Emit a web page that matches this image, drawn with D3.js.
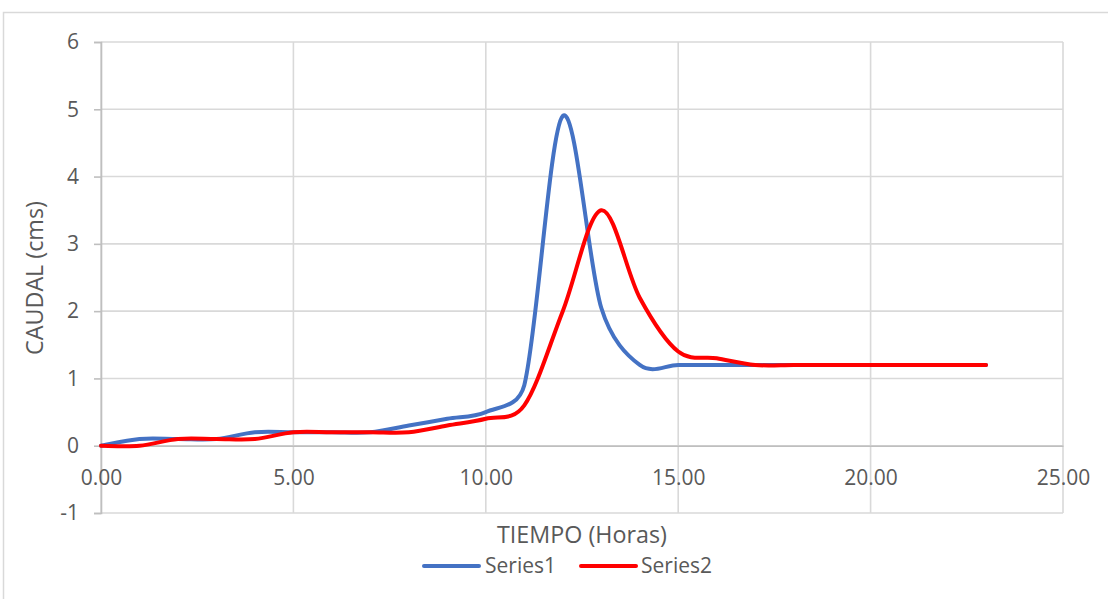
<!DOCTYPE html>
<html>
<head>
<meta charset="utf-8">
<script src="https://cdn.jsdelivr.net/npm/d3@7"></script>
<style>
  html, body { margin: 0; padding: 0; background: #fff; }
  svg { display: block; font-family: "Open Sans", "Noto Sans", sans-serif; }
</style>
</head>
<body>
<svg id="chart" width="1108" height="599"></svg>
<script>
// ---- data ----
const hours = [0,1,2,3,4,5,6,7,8,9,10,11,12,13,14,15,16,17,18,19,20,21,22,23];
const series1 = [0,0.1,0.1,0.1,0.2,0.2,0.2,0.2,0.3,0.4,0.5,0.9,4.9,2.05,1.2,1.2,1.2,1.2,1.2,1.2,1.2,1.2,1.2,1.2];
const series2 = [0,0,0.1,0.1,0.1,0.2,0.2,0.2,0.2,0.3,0.4,0.6,2.0,3.5,2.2,1.4,1.3,1.2,1.2,1.2,1.2,1.2,1.2,1.2];
const seriesNames = ["Series1", "Series2"];
const xTicks = [0,5,10,15,20,25];
const yTicks = [-1,0,1,2,3,4,5,6];
const xTitle = "TIEMPO (Horas)";
const yTitle = "CAUDAL (cms)";

(function () {
// Spreadsheet-style smoothed line as a D3 curve factory (Bezier, control points clamped by segment length)
function SmoothCurve(context) { this._context = context; }
SmoothCurve.prototype = {
  areaStart() {}, areaEnd() {},
  lineStart() { this._pts = []; },
  point(px, py) { this._pts.push([+px, +py]); },
  lineEnd() {
    const p = this._pts, c = this._context, n = p.length;
    if (!n) return;
    c.moveTo(p[0][0], p[0][1]);
    const dist = (a, b) => Math.hypot(b[0] - a[0], b[1] - a[1]);
    for (let i = 0; i < n - 1; i++) {
      const p0 = p[i > 0 ? i - 1 : i], p1 = p[i], p2 = p[i + 1], p3 = p[i + 2 < n ? i + 2 : i + 1];
      const d12 = dist(p1, p2), d02 = dist(p0, p2), d13 = dist(p1, p3);
      let f1 = 1 / 6, f2 = 1 / 6;
      if (d02 / 6 > d12 / 2 && d02 > 0) f1 = d12 / (2 * d02);
      if (d13 / 6 > d12 / 2 && d13 > 0) f2 = d12 / (2 * d13);
      c.bezierCurveTo(
        p1[0] + f1 * (p2[0] - p0[0]), p1[1] + f1 * (p2[1] - p0[1]),
        p2[0] - f2 * (p3[0] - p1[0]), p2[1] - f2 * (p3[1] - p1[1]),
        p2[0], p2[1]);
    }
  }
};
const smoothCurve = ctx => new SmoothCurve(ctx);

// ---- layout ----
const svg = d3.select("#chart");
const pL = 101, pR = 1063, pT = 42, pB = 513;
const x = d3.scaleLinear().domain([0, 25]).range([pL, pR]);
const y = d3.scaleLinear().domain([-1, 6]).range([pB, pT]);
const textColor = "#595959";
const gridColor = "#d9d9d9";
const axisColor = "#bfbfbf";
const colors = ["#4472C4", "#FF0000"];

// chart border (only top/left visible in frame)
svg.append("rect").attr("x", 3.5).attr("y", 12.5).attr("width", 1200).attr("height", 700)
  .attr("fill", "none").attr("stroke", gridColor).attr("stroke-width", 1.5);

// gridlines
svg.append("g").selectAll("line").data(yTicks).join("line")
  .attr("x1", pL).attr("x2", pR)
  .attr("y1", d => y(d)).attr("y2", d => y(d))
  .attr("stroke", gridColor).attr("stroke-width", 1.6);
svg.append("g").selectAll("line").data(xTicks).join("line")
  .attr("x1", d => x(d)).attr("x2", d => x(d))
  .attr("y1", pT).attr("y2", pB)
  .attr("stroke", gridColor).attr("stroke-width", 1.6);

// y axis
const yAxis = d3.axisLeft(y).tickValues(yTicks).tickSize(7).tickPadding(15).tickFormat(d => String(d));
const gy = svg.append("g").attr("transform", `translate(${pL},0)`).call(yAxis);
gy.select(".domain").attr("stroke", axisColor).attr("stroke-width", 1.6);
gy.selectAll(".tick line").attr("stroke", axisColor).attr("stroke-width", 1.6);
gy.selectAll(".tick text").attr("fill", textColor).style("font-size", "21px")
  .style("font-family", "'Open Sans', sans-serif");

// x axis at y=0
const xAxis = d3.axisBottom(x).tickValues(xTicks).tickSize(0).tickPadding(24).tickFormat(d3.format(".2f"));
const gx = svg.append("g").attr("transform", `translate(0,${y(0)})`).call(xAxis);
gx.select(".domain").attr("stroke", axisColor).attr("stroke-width", 1.6);
gx.selectAll(".tick text").attr("fill", textColor).style("font-size", "21px")
  .style("font-family", "'Open Sans', sans-serif");

// axis titles
svg.append("text").attr("x", (pL + pR) / 2).attr("y", 543)
  .attr("text-anchor", "middle").attr("fill", textColor).style("font-size", "23.3px")
  .text(xTitle);
svg.append("text").attr("transform", "translate(43,278) rotate(-90)")
  .attr("text-anchor", "middle").attr("fill", textColor).style("font-size", "23.3px")
  .text(yTitle);

// lines
const line = d3.line().x(d => x(d[0])).y(d => y(d[1])).curve(smoothCurve);
[series1, series2].forEach((s, i) => {
  svg.append("path")
    .datum(hours.map((h, j) => [h, s[j]]))
    .attr("d", line)
    .attr("fill", "none")
    .attr("stroke", colors[i])
    .attr("stroke-width", 4)
    .attr("stroke-linejoin", "round")
    .attr("stroke-linecap", "round");
});

// legend
const legendItems = [{x1: 424, x2: 479, tx: 485}, {x1: 581, x2: 636, tx: 641}];
legendItems.forEach((it, i) => {
  svg.append("line").attr("x1", it.x1).attr("x2", it.x2).attr("y1", 566).attr("y2", 566)
    .attr("stroke", colors[i]).attr("stroke-width", 4).attr("stroke-linecap", "round");
  svg.append("text").attr("x", it.tx).attr("y", 573).attr("fill", textColor)
    .style("font-size", "21px").text(seriesNames[i]);
});
})();
</script>
</body>
</html>
